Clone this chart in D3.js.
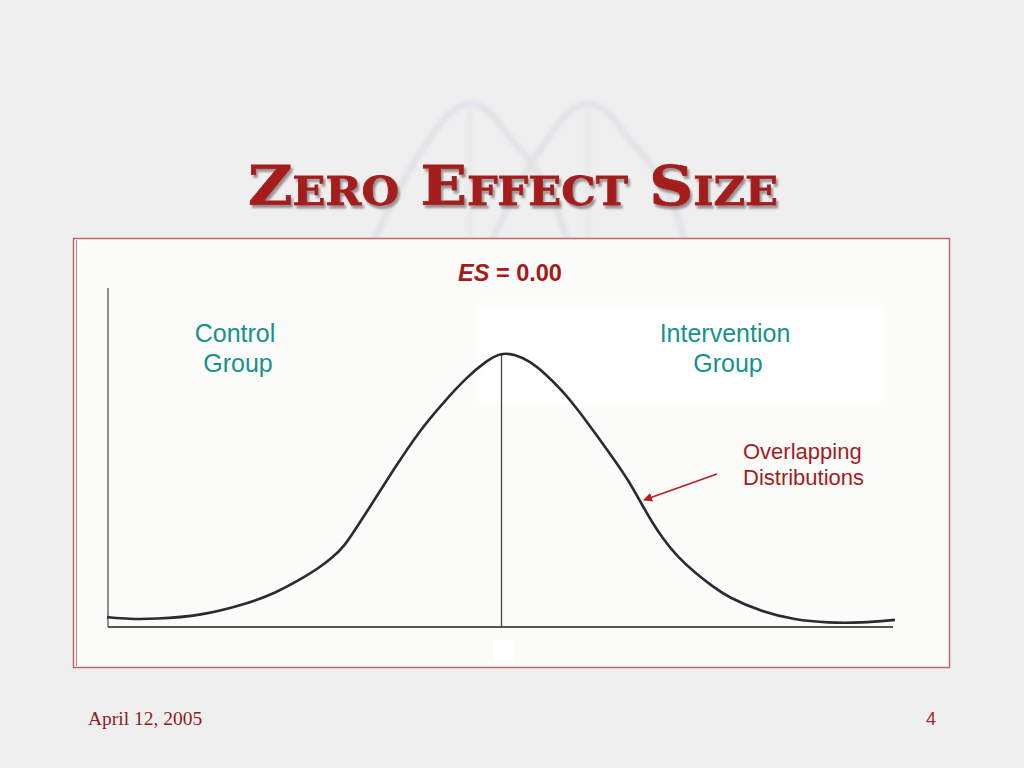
<!DOCTYPE html>
<html>
<head>
<meta charset="utf-8">
<script src="https://cdn.jsdelivr.net/npm/d3@7"></script>
<style>
  html, body { margin: 0; padding: 0; background: #efefef; }
  svg { display: block; }
</style>
</head>
<body>
<svg id="chart" width="1024" height="768"></svg>
<script>
// ---------- data ----------
const titleText = "Zero Effect Size";
const esLabel = "ES";
const esValue = " = 0.00";
const groupLabels = [["Control", "Group"], ["Intervention", "Group"]];
const annotationLines = ["Overlapping", "Distributions"];
const footerDate = "April 12, 2005";
const pageNumber = "4";

// standardized score (z) and relative density
const curveZ = [-4.01, -3.78, -3.54, -3.06, -2.56, -2.30, -2.05, -1.87, -1.71, -1.59, -1.49, -1.37,
                -1.10, -0.83, -0.57, -0.35, -0.17, 0.00,
                 0.14, 0.27, 0.44, 0.61, 0.78, 0.95, 1.12, 1.29, 1.43, 1.53, 1.63, 1.79, 1.97,
                 2.14, 2.30, 2.65, 2.98, 3.32, 3.66, 4.00];
const curveH = [0.036, 0.029, 0.029, 0.040, 0.088, 0.124, 0.172, 0.212, 0.255, 0.299, 0.354, 0.420,
                0.573, 0.719, 0.828, 0.912, 0.967, 1.003,
                0.993, 0.974, 0.927, 0.865, 0.792, 0.708, 0.624, 0.536, 0.445, 0.383, 0.328, 0.255, 0.197,
                0.150, 0.109, 0.055, 0.026, 0.015, 0.015, 0.026];
const meanZ = 0;
const axisTopH = 1.237;
const baselineEndZ = 3.98;

// faint watermark of two bell curves (relative units)
const wmX = [0.00, 0.14, 0.30, 0.40, 0.50, 0.60, 0.70, 0.80, 0.93, 1.00];
const wmY = [0.00, 0.40, 0.76, 0.93, 1.00, 0.93, 0.76, 0.60, 0.30, 0.00];

// ---------- drawing ----------
const svg = d3.select("#chart");
const defs = svg.append("defs");
defs.append("filter").attr("id", "blur").append("feGaussianBlur").attr("stdDeviation", 2);
defs.append("filter").attr("id", "soft").append("feGaussianBlur").attr("stdDeviation", 4);
const shadow = defs.append("filter").attr("id", "shadow")
  .attr("x", "-5%").attr("y", "-20%").attr("width", "110%").attr("height", "140%");
shadow.append("feDropShadow").attr("dx", 2).attr("dy", 3).attr("stdDeviation", 0.8)
  .attr("flood-color", "#8a8080").attr("flood-opacity", 0.85);

// watermark
const wmXScale1 = d3.scaleLinear().domain([0, 1]).range([372, 568]);
const wmXScale2 = d3.scaleLinear().domain([0, 1]).range([490, 686]);
const wmYScale = d3.scaleLinear().domain([0, 1]).range([245, 103]);
const wm = svg.append("g").attr("filter", "url(#blur)").attr("opacity", 0.42);
[wmXScale1, wmXScale2].forEach(sx => {
  const line = d3.line().x((d, i) => sx(wmX[i])).y((d, i) => wmYScale(wmY[i])).curve(d3.curveCatmullRom);
  wm.append("path").attr("d", line(wmX)).attr("fill", "none")
    .attr("stroke", "#c9cfdd").attr("stroke-width", 6);
  wm.append("line").attr("x1", sx(0.5)).attr("x2", sx(0.5))
    .attr("y1", wmYScale(1)).attr("y2", wmYScale(0))
    .attr("stroke", "#d4d8e2").attr("stroke-width", 3);
});

// title with drop shadow
svg.append("text")
  .attr("x", 513).attr("y", 205)
  .attr("text-anchor", "middle")
  .attr("font-family", "'DejaVu Serif', 'Liberation Serif', serif")
  .attr("font-weight", "bold")
  .attr("font-size", 55)
  .style("font-variant", "small-caps")
  .attr("textLength", 530)
  .attr("lengthAdjust", "spacingAndGlyphs")
  .attr("fill", "#a51f1f")
  .attr("stroke", "#a51f1f").attr("stroke-width", 0.8)
  .attr("filter", "url(#shadow)")
  .text(titleText);

// frame
svg.append("rect").attr("x", 73.5).attr("y", 238.5).attr("width", 876).attr("height", 429)
  .attr("fill", "#fbfbf9").attr("stroke", "#c46666").attr("stroke-width", 1.5);
svg.append("line").attr("x1", 76.5).attr("x2", 76.5).attr("y1", 240).attr("y2", 666)
  .attr("stroke", "#b08a8a").attr("stroke-width", 1);

// whitish patches
svg.append("rect").attr("x", 478).attr("y", 306).attr("width", 405).attr("height", 98)
  .attr("fill", "#ffffff").attr("filter", "url(#soft)");
svg.append("rect").attr("x", 493).attr("y", 640).attr("width", 20).attr("height", 22).attr("fill", "#ffffff");

// scales
const x = d3.scaleLinear().domain([-4, 4]).range([108, 895]);
const y = d3.scaleLinear().domain([0, 1]).range([627, 353]);

// axes
svg.append("line").attr("x1", x(-4)).attr("x2", x(-4)).attr("y1", y(0)).attr("y2", y(axisTopH))
  .attr("stroke", "#6a6a6a").attr("stroke-width", 1.5);
svg.append("line").attr("x1", x(-4)).attr("x2", x(baselineEndZ)).attr("y1", y(0)).attr("y2", y(0))
  .attr("stroke", "#555").attr("stroke-width", 2);
svg.append("line").attr("x1", x(meanZ)).attr("x2", x(meanZ)).attr("y1", y(0)).attr("y2", y(1))
  .attr("stroke", "#444").attr("stroke-width", 1.3);

// curve
const curveLine = d3.line().x((d, i) => x(curveZ[i])).y((d, i) => y(curveH[i]))
  .curve(d3.curveBasis);
svg.append("path").attr("d", curveLine(curveZ)).attr("fill", "none")
  .attr("stroke", "#2b2a33").attr("stroke-width", 2.6);

// ES label
const es = svg.append("text").attr("x", 510).attr("y", 281).attr("text-anchor", "middle")
  .attr("font-family", "'Liberation Sans', Arial, sans-serif").attr("font-weight", "bold")
  .attr("font-size", 23.5).attr("fill", "#a31a1a");
es.append("tspan").attr("font-style", "italic").text(esLabel);
es.append("tspan").text(esValue);

// group labels
const groupCenters = [235, 725];
groupLabels.forEach((lines, gi) => {
  lines.forEach((t, li) => {
    svg.append("text").attr("x", groupCenters[gi] + (li ? 3 : 0)).attr("y", 342 + li * 30)
      .attr("text-anchor", "middle")
      .attr("font-family", "'Liberation Sans', Arial, sans-serif")
      .attr("font-size", 25).attr("fill", "#17928a").text(t);
  });
});

// annotation
annotationLines.forEach((t, i) => {
  svg.append("text").attr("x", 743).attr("y", 459 + i * 26)
    .attr("font-family", "'Liberation Sans', Arial, sans-serif")
    .attr("font-size", 22).attr("fill", "#a01e1e").text(t);
});
defs.append("marker").attr("id", "arrow").attr("viewBox", "0 0 10 10")
  .attr("refX", 9).attr("refY", 5).attr("markerWidth", 6).attr("markerHeight", 6)
  .attr("orient", "auto")
  .append("path").attr("d", "M0,0 L10,5 L0,10 z").attr("fill", "#b01f1f");
svg.append("line").attr("x1", 717).attr("y1", 474).attr("x2", 644).attr("y2", 500)
  .attr("stroke", "#b01f1f").attr("stroke-width", 1.5).attr("marker-end", "url(#arrow)");

// footer
svg.append("text").attr("x", 88).attr("y", 725)
  .attr("font-family", "'Liberation Serif', 'Times New Roman', serif")
  .attr("font-size", 19.5).attr("fill", "#8e1d1d").text(footerDate);
svg.append("text").attr("x", 936).attr("y", 725).attr("text-anchor", "end")
  .attr("font-family", "'Liberation Sans', Arial, sans-serif")
  .attr("font-size", 18).attr("fill", "#a62a2a").text(pageNumber);
</script>
</body>
</html>
